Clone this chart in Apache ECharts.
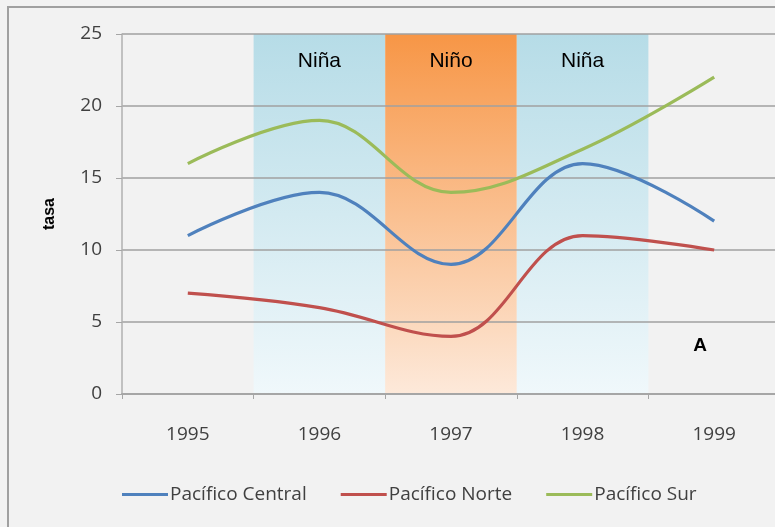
<!DOCTYPE html>
<html>
<head>
<meta charset="utf-8">
<script src="https://cdn.jsdelivr.net/npm/echarts@6/dist/echarts.min.js"></script>
<style>
  html, body { margin: 0; padding: 0; background: #f2f2f2; }
  #chart { width: 775px; height: 527px; }
</style>
</head>
<body>
<div id="chart"></div>
<script>
// Years on the horizontal axis
const years = ['1995', '1996', '1997', '1998', '1999'];

// Rates per Pacific region
const pacificoCentral = [11, 14, 9, 16, 12];
const pacificoNorte = [7, 6, 4, 11, 10];
const pacificoSur = [16, 19, 14, 17, 22];

// ENSO phase shaded behind each year (empty = no band)
const phases = ['', 'Niña', 'Niño', 'Niña', ''];

// Value axis range
const yMin = 0;
const yMax = 25;
const yStep = 5;

const phaseGradients = {
  'Niña': ['#b6dce7', '#f0f8fb'],
  'Niño': ['#f79646', '#fde9da']
};

function gradient(stops) {
  return new echarts.graphic.LinearGradient(0, 0, 0, 1, [
    { offset: 0, color: stops[0] },
    { offset: 1, color: stops[1] }
  ]);
}

const bandData = phases.map(p => {
  if (!p) return { value: null };
  return {
    value: yMax,
    name: p,
    itemStyle: { color: gradient(phaseGradients[p]) }
  };
});

const chart = echarts.init(document.getElementById('chart'), null, { renderer: 'canvas' });

const labelFont = "'Open Sans', 'Noto Sans', sans-serif";

chart.setOption({
  backgroundColor: '#f2f2f2',
  animation: false,
  // plot area runs slightly past the right edge of the canvas
  grid: { left: 122, top: 34, height: 360, width: 658, containLabel: false, outerBoundsMode: 'none' },
  xAxis: {
    type: 'category',
    data: years,
    boundaryGap: true,
    z: 3,
    axisLine: { show: true, lineStyle: { color: '#a6a6a6', width: 2 } },
    axisTick: { show: true, alignWithLabel: false, length: 5, lineStyle: { color: '#a6a6a6', width: 1 } },
    axisLabel: { color: '#404040', fontFamily: labelFont, fontSize: 19, margin: 31 },
    splitLine: { show: false }
  },
  yAxis: {
    type: 'value',
    min: yMin,
    max: yMax,
    interval: yStep,
    z: 3,
    name: 'tasa',
    nameLocation: 'middle',
    nameGap: 64,
    nameRotate: 90,
    nameTextStyle: { fontFamily: "'Liberation Sans', Arial, sans-serif", fontWeight: 'bold', fontSize: 16, color: '#000' },
    axisLine: { show: true, lineStyle: { color: '#b0b0b0', width: 1.5 } },
    axisTick: { show: true, length: 6, lineStyle: { color: '#a6a6a6' } },
    axisLabel: { color: '#404040', fontFamily: labelFont, fontSize: 19, margin: 20 },
    splitLine: { show: true, lineStyle: { color: '#a0a0a0', width: 1.5 } }
  },
  legend: {
    left: 122,
    top: 485,
    padding: 0,
    itemWidth: 46,
    itemHeight: 3,
    itemGap: 34,
    icon: 'rect',
    textStyle: { color: '#404040', fontFamily: labelFont, fontSize: 19, padding: [0, 0, 0, -3] },
    data: ['Pacífico Central', 'Pacífico Norte', 'Pacífico Sur']
  },
  series: [
    {
      name: 'fase',
      type: 'bar',
      data: bandData,
      barWidth: '100%',
      barCategoryGap: '0%',
      z: 1,
      silent: true,
      label: {
        show: true,
        position: 'insideTop',
        distance: 17,
        formatter: p => p.name || '',
        color: '#000',
        fontFamily: "'Liberation Sans', Arial, sans-serif",
        fontSize: 21
      }
    },
    {
      name: 'Pacífico Central',
      type: 'line',
      data: pacificoCentral,
      smooth: 0.38,
      showSymbol: false,
      z: 5,
      color: '#4f81bd',
      lineStyle: { width: 3.2, color: '#4f81bd' }
    },
    {
      name: 'Pacífico Norte',
      type: 'line',
      data: pacificoNorte,
      smooth: 0.38,
      showSymbol: false,
      z: 5,
      color: '#c0504d',
      lineStyle: { width: 3.2, color: '#c0504d' }
    },
    {
      name: 'Pacífico Sur',
      type: 'line',
      data: pacificoSur,
      smooth: 0.38,
      showSymbol: false,
      z: 5,
      color: '#9bbb59',
      lineStyle: { width: 3.2, color: '#9bbb59' }
    }
  ],
  graphic: [
    {
      type: 'rect',
      shape: { x: 8, y: 7, width: 800, height: 560 },
      style: { fill: null, stroke: '#a0a0a0', lineWidth: 2 },
      silent: true,
      z: 10
    },
    {
      type: 'text',
      x: 700,
      y: 346,
      style: {
        text: 'A',
        fill: '#000',
        font: "bold 19px 'Liberation Sans', Arial, sans-serif",
        textAlign: 'center',
        textVerticalAlign: 'middle'
      },
      z: 10
    }
  ]
});
</script>
</body>
</html>
